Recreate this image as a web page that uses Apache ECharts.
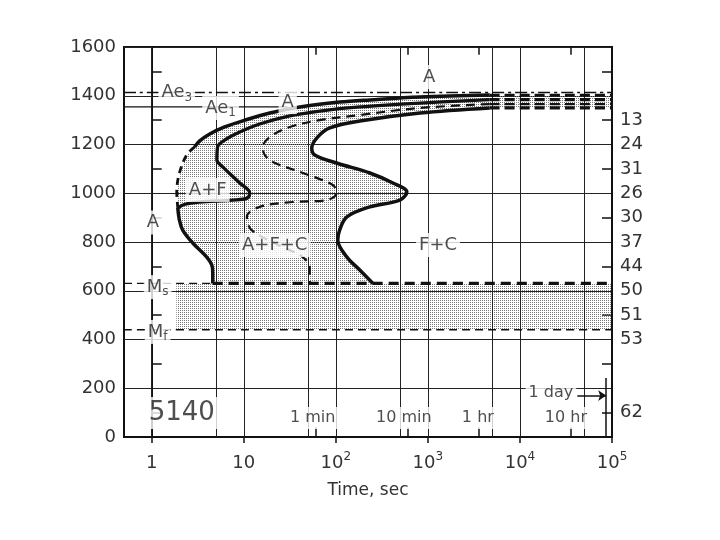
<!DOCTYPE html>
<html>
<head>
<meta charset="utf-8">
<script src="https://cdn.jsdelivr.net/npm/echarts@6/dist/echarts.min.js"></script>
<style>html,body{margin:0;background:#fff}#main{width:720px;height:540px}</style>
</head>
<body>
<div id="main"></div>
<script>
// time in seconds, temperature in deg F
const tMin = 0.5, tMax = 1e5;
const decades = [0, 1, 2, 3, 4, 5];
const decadeBase = ['1', '10', '10', '10', '10', '10'];
const decadeExp = ['', '', '2', '3', '4', '5'];
const gridTimes = [1, 5, 10, 50, 100, 500, 1000, 5000, 10000, 50000];
const markTimes = [60, 600, 3600, 36000];
const oneDay = 86400;
const hardTemps = [1300, 1200, 1100, 1000, 900, 800, 700, 600, 500, 400, 100];
const hardness = ['13', '24', '31', '26', '30', '37', '44', '50', '51', '53', '62'];
const Ae3 = 1413, Ae1 = 1354, Ms = 630, Mf = 440;

// start of ferrite (outer curve)
const startTop = [[4700,1403],[820,1395],[234,1383],[110,1374],[40.6,1354],[19.2,1329],[10.3,1300],[6.2,1272],[4.27,1243],[3.3,1214],[2.93,1190]];
const startDash = [[2.93,1190],[2.4,1157],[2.0,1083],[1.87,1005],[1.92,940]];
const startLow = [[1.92,940],[2.0,890],[2.17,849],[2.79,796],[3.96,738],[4.49,706],[4.6,673],[4.6,630]];
// start of carbide
const carbideStart = [[4700,1384],[820,1370],[182,1354],[67,1337],[31.6,1317],[14.9,1284],[9.05,1251],[6.2,1218],[5.2,1190],[5.1,1136],[5.9,1108],[9.05,1042],[11.6,1001],[10.9,980],[7.6,972],[3.3,964],[2.3,955],[1.92,940]];
// 50 %
const halfCurve = [[4700,1366],[820,1350],[182,1321],[67,1300],[31.6,1272],[19.2,1231],[16.1,1190],[16.9,1157],[20.7,1128],[43.8,1083],[92.8,1034],[102,1001],[79.8,972],[34.1,964],[14.9,944],[10.8,903],[12.2,849],[27.9,775],[40.6,747],[52.1,697],[52.1,630]];
// end of transformation
const endCurve = [[4700,1350],[820,1329],[182,1296],[86,1268],[63.7,1231],[54.8,1186],[59.1,1157],[102,1124],[234,1083],[417,1042],[591,1005],[496,972],[234,944],[132,903],[110,849],[105,808],[132,738],[182,685],[253,630]];
// long-time tails
const tailTemps = [1402, 1384, 1366, 1350];

// [time, temp, text, subscript]
const regionLabels = [
  [1.87, 1413, 'Ae', '3'],
  [5.6, 1350, 'Ae', '1'],
  [30, 1374, 'A', ''],
  [1030, 1477, 'A', ''],
  [4.06, 1013, 'A+F', ''],
  [1.03, 880, 'A', ''],
  [21.7, 788, 'A+F+C', ''],
  [1290, 788, 'F+C', ''],
  [1.16, 615, 'M', 's'],
  [1.16, 431, 'M', 'f']
];
const timeLabels = [
  [56, 78, '1 min', ''],
  [548, 78, '10 min', ''],
  [3490, 78, '1 hr', ''],
  [31600, 78, '10 hr', ''],
  [21700, 180, '1 day', '']
];
const steelLabel = [2.12, 98, '5140', ''];

const FONT = 'DejaVu Sans';
const lg = t => Math.log10(t);
const pts = arr => arr.map(p => [lg(p[0]), p[1]]);

// stipple fill
const cv = document.createElement('canvas');
cv.width = 2; cv.height = 2;
const g = cv.getContext('2d');
g.fillStyle = '#7a7a7a';
g.fillRect(0, 0, 1, 1);
const stipple = {image: cv, repeat: 'repeat'};

const mainRegion = [[tMax, tailTemps[0]]].concat(startTop, startDash.slice(1), startLow.slice(1),
  endCurve.slice().reverse(), [[tMax, tailTemps[3]]]);
const martRegion = [[1.85, Ms], [tMax, Ms], [tMax, Mf], [1.85, Mf]];

function polySeries(poly) {
  return {
    type: 'custom', silent: true, z: 1,
    data: [[0, 0]],
    renderItem: (params, api) => ({
      type: 'polygon',
      shape: {points: poly.map(q => api.coord([lg(q[0]), q[1]]))},
      style: {fill: stipple}
    })
  };
}
function curve(data, width, type) {
  return {
    type: 'line', data: pts(data), symbol: 'none', smooth: 0.35, silent: true, z: 5,
    lineStyle: {color: '#111', width: width, type: type || 'solid'}
  };
}
function vseg(t, a, b) {
  return [{coord: [lg(t), a]}, {coord: [lg(t), b]}];
}

const labelItem = (l, size) => ({
  value: [lg(l[0]), l[1]],
  label: {
    formatter: '{n|' + l[2] + '}' + (l[3] ? '{sub|' + l[3] + '}' : ''),
    rich: {
      n: {fontSize: size, fontFamily: FONT, color: '#222', verticalAlign: 'middle', lineHeight: size + 4},
      sub: {fontSize: 12, fontFamily: FONT, color: '#222', verticalAlign: 'bottom'}
    }
  }
});

const series = [
  polySeries(mainRegion),
  polySeries(martRegion),
  {
    type: 'line', data: [], silent: true, z: 2,
    markLine: {
      silent: true, symbol: 'none', animation: false, label: {show: false},
      lineStyle: {color: '#222', width: 1, type: 'solid'},
      data: gridTimes.map(t => ({xAxis: lg(t)}))
    }
  },
  curve([[tMin, Ae3], [tMax, Ae3]], 1.5, [12, 4, 3, 4]),
  curve([[tMin, Ae1], [30, Ae1]], 1.3),
  curve([[tMin, Ms], [4.6, Ms]], 1.3, [8, 5]),
  curve([[4.6, Ms], [tMax, Ms]], 3.2, [10, 6]),
  curve([[tMin, Mf], [tMax, Mf]], 1.3, [8, 5]),
  curve(startTop, 3.5),
  curve(startDash, 2.8, [7, 5]),
  curve(startLow, 3.5),
  curve(carbideStart, 3.3),
  curve(halfCurve, 2.2, [9, 6]),
  curve(endCurve, 3.5)
];
tailTemps.forEach((T, i) => series.push(curve([[4700, T], [tMax, T]], i === 2 ? 2.2 : 3.2, [10, 5])));
series.push({
  type: 'line', data: [], silent: true, z: 6,
  markLine: {
    silent: true, symbol: 'none', animation: false, label: {show: false},
    lineStyle: {color: '#111', width: 1.5, type: 'solid'},
    data: markTimes.map(t => vseg(t, 1600, 1568))
      .concat(markTimes.map(t => vseg(t, 0, 40)))
      .concat([vseg(oneDay, 0, 242)])
  }
});
series.push({
  type: 'line', data: [], silent: true, z: 6,
  markLine: {
    silent: true, symbol: ['none', 'arrow'], symbolSize: 8, animation: false, label: {show: false},
    lineStyle: {color: '#111', width: 1.5, type: 'solid'},
    data: [[{coord: [lg(42000), 170]}, {coord: [lg(oneDay), 170]}]]
  }
});
series.push({
  type: 'scatter', symbolSize: 0, silent: true, z: 10,
  label: {show: true, position: 'inside', backgroundColor: '#fff', padding: [1, 3]},
  data: regionLabels.map(l => labelItem(l, 18))
    .concat(timeLabels.map(l => labelItem(l, 16)))
    .concat([labelItem(steelLabel, 26)])
});

const option = {
  animation: false,
  backgroundColor: '#fff',
  textStyle: {fontFamily: FONT},
  grid: {left: 124, right: 108, top: 47, bottom: 103, show: true, borderColor: '#111', borderWidth: 2},
  xAxis: {
    type: 'value', min: lg(tMin), max: lg(tMax),
    name: 'Time, sec', nameLocation: 'middle', nameGap: 45,
    nameTextStyle: {fontSize: 17, color: '#333', fontFamily: FONT},
    axisLine: {show: true, lineStyle: {color: '#111', width: 2}},
    axisTick: {show: true, customValues: decades, length: 6, lineStyle: {color: '#111', width: 1.5}},
    axisLabel: {
      customValues: decades, margin: 14, color: '#333',
      formatter: v => {
        const i = Math.round(v);
        return '{b|' + decadeBase[i] + '}' + (decadeExp[i] ? '{s|' + decadeExp[i] + '}' : '');
      },
      rich: {
        b: {fontSize: 18, fontFamily: FONT, color: '#333', verticalAlign: 'middle', lineHeight: 24},
        s: {fontSize: 12, fontFamily: FONT, color: '#333', verticalAlign: 'top'}
      }
    },
    splitLine: {show: false}
  },
  yAxis: [{
    type: 'value', min: 0, max: 1600, interval: 200, position: 'left',
    axisLine: {show: true, lineStyle: {color: '#111', width: 2}},
    axisTick: {show: true, inside: true, length: 0},
    minorTick: {show: true, splitNumber: 2, length: 10, lineStyle: {color: '#111', width: 1.5}},
    axisLabel: {fontSize: 18, margin: 8, color: '#333', fontFamily: FONT, formatter: v => String(v)},
    splitLine: {show: true, lineStyle: {color: '#222', width: 1}}
  }, {
    type: 'value', min: 0, max: 1600, interval: 200, position: 'right',
    axisLine: {show: true, lineStyle: {color: '#111', width: 2}},
    axisTick: {show: true, inside: true, length: 0},
    minorTick: {show: true, splitNumber: 2, length: 10, lineStyle: {color: '#111', width: 1.5}},
    axisLabel: {
      customValues: hardTemps, fontSize: 18, margin: 8, color: '#333', fontFamily: FONT,
      formatter: v => hardness[hardTemps.indexOf(v)]
    },
    splitLine: {show: false}
  }],
  series: series
};
const chart = echarts.init(document.getElementById('main'));
chart.setOption(option);
</script>
</body>
</html>
